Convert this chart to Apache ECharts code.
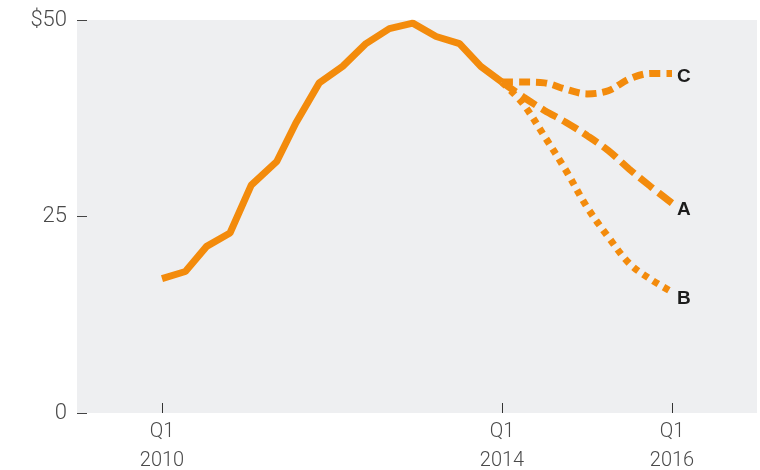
<!DOCTYPE html>
<html>
<head>
<meta charset="utf-8">
<style>
  html, body { margin: 0; padding: 0; background: #ffffff; }
  #chart { width: 760px; height: 470px; }
</style>
<script src="https://cdn.jsdelivr.net/npm/echarts@6/dist/echarts.min.js"></script>
</head>
<body>
<div id="chart"></div>
<script>
// Quarters are counted from Q1 2010 (0) to Q1 2016 (24).
const xTickValues = [0, 16, 24];
const xTickLabels = ['Q1\n2010', 'Q1\n2014', 'Q1\n2016'];
const yTickValues = [0, 25, 50];
const yTickLabels = ['0', '25', '$50'];

// Historical price
const historyQuarters = [0, 1.1, 2.1, 3.2, 4.2, 5.4, 6.3, 7.4, 8.5, 9.6, 10.7, 11.8, 12.9, 14.0, 15.0, 16.0];
const historyValues   = [17.1, 18.0, 21.2, 22.9, 29.0, 32.0, 36.9, 42.0, 44.1, 47.0, 48.9, 49.6, 47.9, 47.0, 44.1, 42.1];

// Scenarios, Q1 2014 to Q1 2016
const scenarioQuarters = [16, 17, 18, 19, 20, 21, 22, 23, 24];
const scenarioA = [42.1, 40.2, 38.5, 37.0, 35.3, 33.4, 31.0, 28.8, 26.7];
const scenarioB = [42.1, 39.3, 35.2, 30.9, 26.2, 22.4, 19.0, 17.0, 15.4];
const scenarioC = [42.1, 42.1, 42.0, 41.2, 40.6, 41.0, 42.5, 43.2, 43.2];

const ORANGE = '#F38B0C';

function pairs(xs, ys) {
  return xs.map((x, i) => [x, ys[i]]);
}

function scenario(name, values, dash, labelDy) {
  return {
    name: name,
    type: 'line',
    data: pairs(scenarioQuarters, values),
    smooth: 0.35,
    symbol: 'none',
    silent: true,
    lineStyle: { color: ORANGE, width: 7, type: dash, cap: 'butt' },
    endLabel: {
      show: true,
      formatter: name,
      distance: 5,
      offset: [0, labelDy],
      color: '#1c1c1c',
      fontFamily: 'Liberation Sans, Arial, sans-serif',
      fontWeight: 'bold',
      fontSize: 19
    }
  };
}

const chart = echarts.init(document.getElementById('chart'), null, { renderer: 'canvas' });

chart.setOption({
  animation: false,
  backgroundColor: '#ffffff',
  grid: {
    left: 77, right: 3, top: 20, bottom: 57,
    show: true, backgroundColor: '#EEEFF1', borderWidth: 0,
    containLabel: false,
    outerBoundsMode: 'none'
  },
  xAxis: {
    type: 'value',
    min: -4,
    max: 28,
    axisLine: { show: false, onZero: false },
    splitLine: { show: false },
    axisTick: {
      show: true, inside: true, length: 10,
      customValues: xTickValues,
      lineStyle: { color: '#333333', width: 1 }
    },
    axisLabel: {
      customValues: xTickValues,
      formatter: v => xTickLabels[xTickValues.indexOf(v)],
      margin: 4,
      color: '#4a4a4a',
      fontFamily: 'Roboto, sans-serif',
      fontWeight: 300,
      fontSize: 20,
      lineHeight: 29
    }
  },
  yAxis: {
    type: 'value',
    min: 0,
    max: 50,
    interval: 25,
    axisLine: { show: false, onZero: false },
    splitLine: { show: false },
    axisTick: {
      show: true, inside: true, length: 10,
      lineStyle: { color: '#444444', width: 1 }
    },
    axisLabel: {
      formatter: v => yTickLabels[yTickValues.indexOf(v)],
      margin: 10,
      color: '#4a4a4a',
      fontFamily: 'Roboto, sans-serif',
      fontWeight: 300,
      fontSize: 22
    }
  },
  series: [
    {
      name: 'History',
      type: 'line',
      data: pairs(historyQuarters, historyValues),
      symbol: 'none',
      silent: true,
      lineStyle: { color: ORANGE, width: 7 }
    },
    scenario('C', scenarioC, [11, 6], 3),
    scenario('A', scenarioA, [17, 7], 7),
    scenario('B', scenarioB, [6, 6], 7)
  ]
});
</script>
</body>
</html>
